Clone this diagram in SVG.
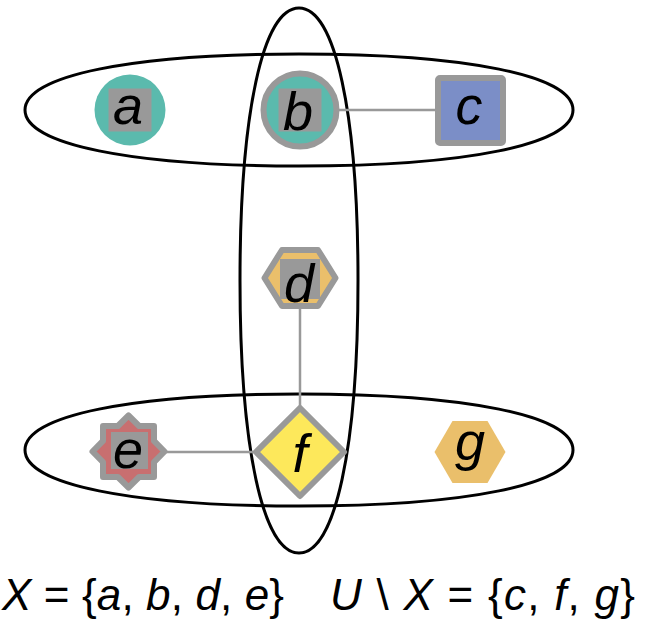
<svg xmlns="http://www.w3.org/2000/svg" width="652" height="619" viewBox="0 0 652 619">
<style>
  .hedge { fill: none; stroke: #000; stroke-width: 3; }
  .edge { stroke: #999; stroke-width: 2.5; fill: none; }
  .sq { fill: #999; }
  .bd { stroke: #999; stroke-width: 6; stroke-linejoin: round; }
  .lbl { font-family: "Liberation Sans", Arial, sans-serif; font-style: italic; font-size: 54px; fill: #000; text-anchor: middle; }
  .math { font-family: "Liberation Sans", Arial, sans-serif; font-size: 44px; fill: #000; }
  .it { font-style: italic; }
</style>
<rect width="652" height="619" fill="#fff"/>
<g id="hyperedges">
  <path class="hedge" d="M573,110 C573,144.3 467,166 299,166 C131,166 25,144.3 25,110 C25,75.7 131,54 299,54 C467,54 573,75.7 573,110 Z"/>
  <path class="hedge" d="M573,450 C573,484.3 467,506 299,506 C131,506 25,484.3 25,450 C25,415.7 131,394 299,394 C467,394 573,415.7 573,450 Z"/>
  <path class="hedge" d="M358,280.5 C358,447.5 335.2,553 299,553 C262.8,553 240,447.5 240,280.5 C240,113.5 262.8,8 299,8 C335.2,8 358,113.5 358,280.5 Z"/>
</g>
<g id="connectors">
  <line class="edge" x1="339" y1="110" x2="436" y2="110"/>
  <line class="edge" x1="300" y1="306" x2="300" y2="406"/>
  <line class="edge" x1="160" y1="452" x2="254" y2="452"/>
</g>
<g id="node-a">
  <circle cx="130" cy="110" r="35.5" fill="#5bbaad"/>
  <rect class="sq" x="108.5" y="88.5" width="43" height="43"/>
  <text class="lbl" x="128" y="124">a</text>
</g>
<g id="node-b">
  <circle class="bd" cx="300" cy="110" r="36.5" fill="#5bbaad"/>
  <rect class="sq" x="278.5" y="88.5" width="43" height="43"/>
  <text class="lbl" x="298" y="129.5">b</text>
</g>
<g id="node-c">
  <rect class="bd" x="438" y="78" width="65" height="65" rx="2" fill="#7b8ec7"/>
  <text class="lbl" x="469" y="124">c</text>
</g>
<g id="node-d">
  <polygon class="bd" points="264.5,278 282,250 318,250 335.5,278 318,306 282,306" fill="#eabf6b"/>
  <rect class="sq" x="280" y="259" width="40" height="40"/>
  <text class="lbl" x="299" y="302">d</text>
</g>
<g id="node-e">
  <polygon class="bd" points="128.5,415.5 139.1,426 154,426 154,440.9 164.5,451.5 154,462.1 154,477 139.1,477 128.5,487.5 117.9,477 103,477 103,462.1 92.5,451.5 103,440.9 103,426 117.9,426" fill="#c86f70"/>
  <rect class="sq" x="111" y="432" width="37" height="37"/>
  <text class="lbl" x="128" y="468">e</text>
</g>
<g id="node-f">
  <polygon class="bd" points="300,408 344,452 300,496 256,452" fill="#fde85b" stroke-linejoin="miter"/>
  <text class="lbl" x="300" y="472">f</text>
</g>
<g id="node-g">
  <polygon points="434.5,452 452.5,421 487.5,421 505.5,452 487.5,483 452.5,483" fill="#eabf6b"/>
  <text class="lbl" x="470" y="460">g</text>
</g>
<g id="caption">
  <text class="math" x="2" y="610" textLength="282" lengthAdjust="spacing"><tspan class="it">X</tspan> = {<tspan class="it">a</tspan>, <tspan class="it">b</tspan>, <tspan class="it">d</tspan>, <tspan class="it">e</tspan>}</text>
  <text class="math" x="330" y="610" textLength="305" lengthAdjust="spacing"><tspan class="it">U</tspan> \ <tspan class="it">X</tspan> = {<tspan class="it">c</tspan>, <tspan class="it">f</tspan>, <tspan class="it">g</tspan>}</text>
</g>
</svg>
